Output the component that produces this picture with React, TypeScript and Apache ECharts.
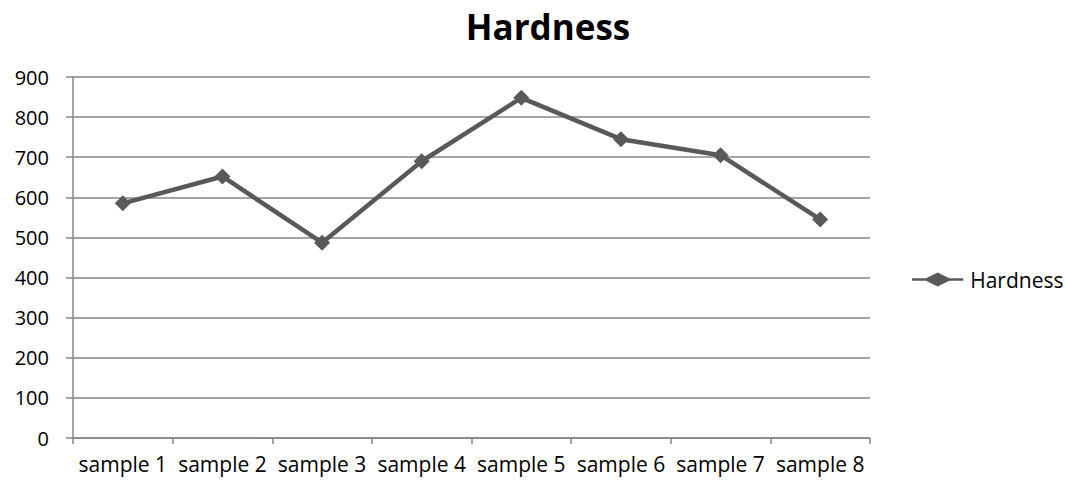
import React, { useEffect, useRef } from "react";
import * as echarts from "echarts";

const categories = ["sample 1", "sample 2", "sample 3", "sample 4", "sample 5", "sample 6", "sample 7", "sample 8"];
const hardness = [585, 652, 487, 690, 848, 745, 705, 545];
const seriesName = "Hardness";
const titleText = "Hardness";

export default function App() {
  const ref = useRef<HTMLDivElement>(null);
  useEffect(() => {
    if (!ref.current) return;
    const chart = echarts.init(ref.current, null, { renderer: "svg" });
    const font = "'Open Sans', 'DejaVu Sans', sans-serif";
    chart.setOption({
      animation: false,
      backgroundColor: "#ffffff",
      title: {
        text: titleText,
        left: 543,
        top: 4,
        textAlign: "center",
        textStyle: { fontFamily: font, fontSize: 35, fontWeight: "bold", color: "#000" },
      },
      legend: {
        data: [{ name: seriesName, icon: "path://M0,5 L12,5 L22,0 L32,5 L44,5 L44,7 L32,7 L22,12 L12,7 L0,7 Z" }],
        orient: "vertical",
        left: 907,
        top: 264,
        itemWidth: 55,
        itemHeight: 14,
        itemGap: 5,
        textStyle: { fontFamily: font, fontSize: 21, color: "#000" },
      },
      grid: { left: 73, right: 196, top: 77, bottom: 49, containLabel: false },
      xAxis: {
        type: "category",
        data: categories,
        boundaryGap: true,
        axisLine: { lineStyle: { color: "#868686", width: 1.5 } },
        axisTick: { show: true, length: 6, lineStyle: { color: "#868686", width: 1.5 } },
        axisLabel: { fontFamily: font, fontSize: 21, color: "#000", margin: 15, interval: 0 },
        splitLine: { show: false },
      },
      yAxis: {
        type: "value",
        min: 0,
        max: 900,
        interval: 100,
        axisLine: { show: true, lineStyle: { color: "#868686", width: 1.5 } },
        axisTick: { show: true, length: 7, lineStyle: { color: "#868686", width: 1.5 } },
        axisLabel: { fontFamily: font, fontSize: 20, color: "#000", margin: 24 },
        splitLine: { lineStyle: { color: "#868686", width: 1.5 } },
      },
      series: [
        {
          name: seriesName,
          type: "line",
          data: hardness,
          symbol: "diamond",
          symbolSize: [16, 16],
          lineStyle: { color: "#595959", width: 4.5 },
          itemStyle: { color: "#595959" },
        },
      ],
    });
    return () => chart.dispose();
  }, []);
  return <div ref={ref} style={{ width: 1066, height: 487, position: "absolute", left: 0, top: 0 }} />;
}
